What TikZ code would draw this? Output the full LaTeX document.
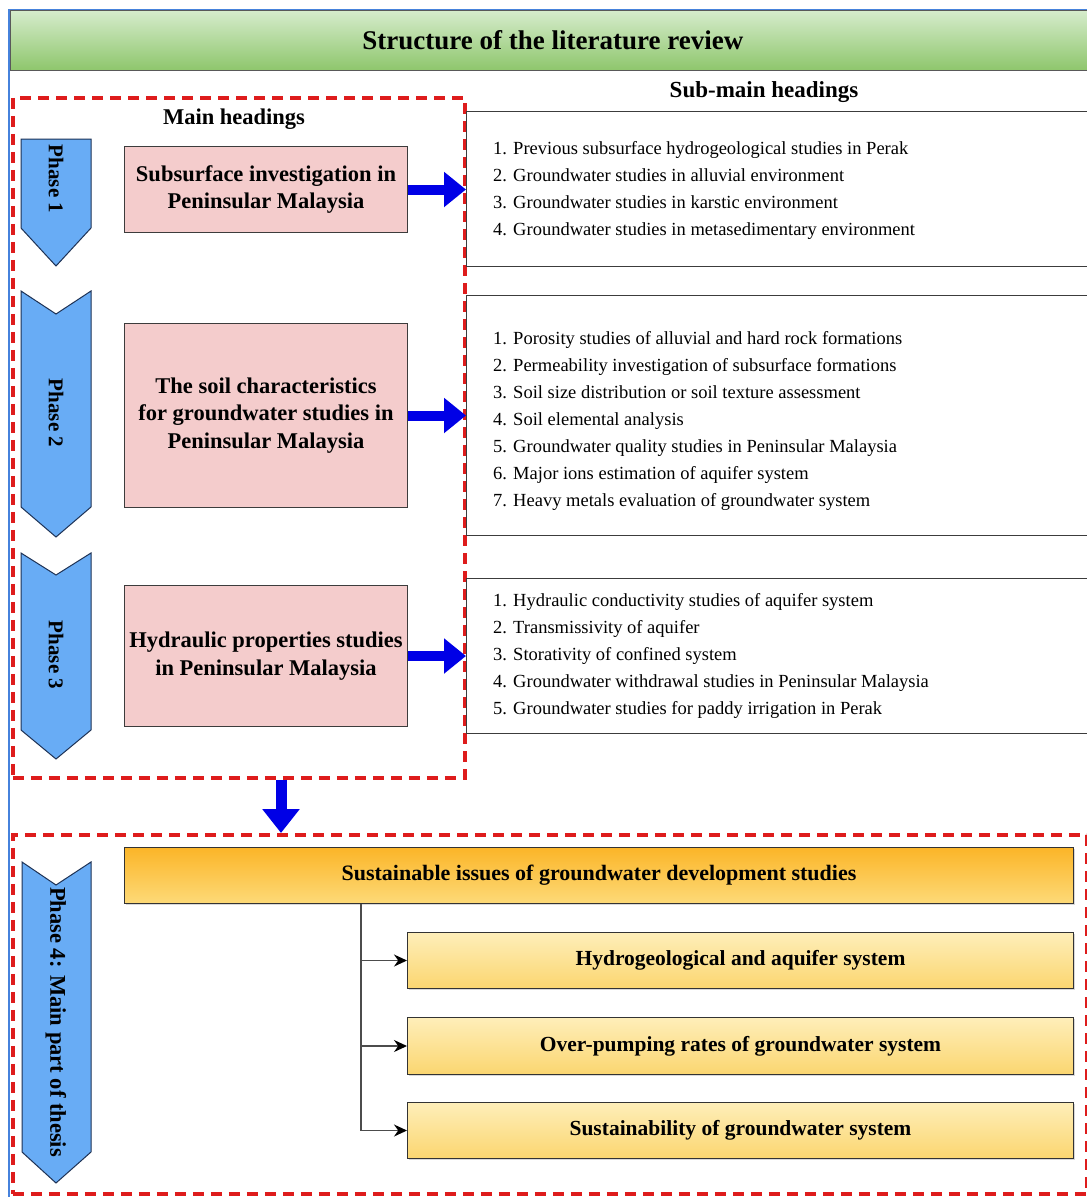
\documentclass[tikz,border=0pt]{standalone}
\usepackage{fontspec}
\setmainfont{Liberation Serif}
\usetikzlibrary{arrows.meta,shadows}
\definecolor{framecol}{RGB}{70,130,220}
\definecolor{hdtop}{RGB}{214,236,204}
\definecolor{hdbot}{RGB}{142,198,108}
\definecolor{pinkfill}{RGB}{244,204,204}
\definecolor{chevfill}{RGB}{104,172,245}
\definecolor{chevdraw}{RGB}{30,50,85}
\definecolor{redd}{RGB}{222,28,28}
\definecolor{arrblue}{RGB}{0,0,230}
\definecolor{ortop}{RGB}{251,181,40}
\definecolor{orbot}{RGB}{253,218,120}
\definecolor{yetop}{RGB}{254,238,185}
\definecolor{yebot}{RGB}{251,214,112}
\definecolor{boxline}{RGB}{60,60,60}
\begin{document}
\begin{tikzpicture}[x=1pt,y=-1pt,
  header/.style={draw=gray!70!black, line width=0.8pt, top color=hdtop, bottom color=hdbot,
    font=\fontsize{27}{32}\selectfont\bfseries, inner sep=0pt},
  redbox/.style={draw=redd, line width=3.5pt, dash pattern=on 11pt off 7pt, inner sep=0pt},
  chevron/.style={fill=chevfill, draw=chevdraw, line width=1pt},
  chevtxt/.style={font=\fontsize{21}{24}\selectfont\bfseries, rotate=-90, inner sep=0pt},
  pinkbox/.style={draw=boxline, line width=1pt, fill=pinkfill, align=center, inner sep=2pt,
    font=\fontsize{22.5}{27.5}\selectfont\bfseries},
  subbox/.style={draw=boxline, line width=1pt, fill=white, inner sep=0pt},
  listtxt/.style={align=left, inner sep=0pt, font=\fontsize{18.5}{27}\selectfont},
  headtxt/.style={font=\fontsize{22.5}{26}\selectfont\bfseries, inner sep=0pt},
  blockarr/.style={draw=arrblue, line width=10pt, -{Triangle[length=22pt,width=34pt]}},
  orangebox/.style={draw=black!80, line width=1pt, top color=ortop, bottom color=orbot,
    font=\fontsize{22}{26}\selectfont\bfseries, inner sep=0pt,
    drop shadow={shadow xshift=1.5pt, shadow yshift=-1.5pt, opacity=0.3}},
  yellowbox/.style={draw=black!80, line width=1pt, top color=yetop, bottom color=yebot,
    font=\fontsize{21.5}{26}\selectfont\bfseries, inner sep=0pt,
    drop shadow={shadow xshift=1.5pt, shadow yshift=-1.5pt, opacity=0.3}},
  trunkline/.style={draw=gray!60!black, line width=1.3pt},
  brancharr/.style={draw=gray!60!black, line width=1.3pt, -{Stealth[length=13pt,width=12pt,black]}}
]
\useasboundingbox[fill=white] (0,0) rectangle (1087,1197);

% outer frame
\draw[framecol, line width=1.5pt] (9,1197) -- (9,10) -- (1092,10);

% header
\node[header, anchor=north west, minimum width=1085, minimum height=60] (hdr) at (10,10)
  {Structure of the literature review};

% headings
\node[headtxt] (mainh) at (234,119) {Main headings};
\node[headtxt, font=\fontsize{23}{26}\selectfont\bfseries] (subh) at (764,92) {Sub-main headings};

% red dashed boxes
\node[redbox, anchor=north west, minimum width=452, minimum height=680] (upper) at (11,96) {};
\node[redbox, anchor=north west, minimum width=1074, minimum height=359] (lower) at (11,833) {};

% chevrons
\draw[chevron] (21,139) -- (91,139) -- (91,228) -- (56,266) -- (21,228) -- cycle;
\node[chevtxt] (ph1) at (56,179) {Phase 1};
\draw[chevron] (21,291) -- (56,314) -- (91,291) -- (91,507) -- (56,537) -- (21,507) -- cycle;
\node[chevtxt] (ph2) at (56,413) {Phase 2};
\draw[chevron] (21,553) -- (56,575) -- (91,553) -- (91,730) -- (56,759) -- (21,730) -- cycle;
\node[chevtxt] (ph3) at (56,655) {Phase 3};
\draw[chevron] (22,862) -- (56,885) -- (91,862) -- (91,1152) -- (56,1183) -- (22,1152) -- cycle;
\node[chevtxt, font=\fontsize{22.5}{26}\selectfont\bfseries] (ph4) at (56,1022) {Phase 4: Main part of thesis};

% pink main boxes
\node[pinkbox, anchor=north west, minimum width=283, minimum height=86] (p1) at (124,146)
  {Subsurface investigation in\\Peninsular Malaysia};
\node[pinkbox, anchor=north west, minimum width=283, minimum height=184] (p2) at (124,323)
  {The soil characteristics\\for groundwater studies in\\Peninsular Malaysia};
\node[pinkbox, anchor=north west, minimum width=283, minimum height=141] (p3) at (124,585)
  {Hydraulic properties studies\\in Peninsular Malaysia};

% sub boxes
\node[subbox, anchor=north west, minimum width=630, minimum height=155] (s1) at (466,111) {};
\node[subbox, anchor=north west, minimum width=630, minimum height=240] (s2) at (466,295) {};
\node[subbox, anchor=north west, minimum width=630, minimum height=155] (s3) at (466,578) {};

\node[listtxt, anchor=west] (l1) at ([xshift=27pt,yshift=-1pt]s1.west)
  {1. Previous subsurface hydrogeological studies in Perak\\
   2. Groundwater studies in alluvial environment\\
   3. Groundwater studies in karstic environment\\
   4. Groundwater studies in metasedimentary environment};
\node[listtxt, anchor=west] (l2) at ([xshift=27pt,yshift=-5pt]s2.west)
  {1. Porosity studies of alluvial and hard rock formations\\
   2. Permeability investigation of subsurface formations\\
   3. Soil size distribution or soil texture assessment\\
   4. Soil elemental analysis\\
   5. Groundwater quality studies in Peninsular Malaysia\\
   6. Major ions estimation of aquifer system\\
   7. Heavy metals evaluation of groundwater system};
\node[listtxt, anchor=west] (l3) at ([xshift=27pt]s3.west)
  {1. Hydraulic conductivity studies of aquifer system\\
   2. Transmissivity of aquifer\\
   3. Storativity of confined system\\
   4. Groundwater withdrawal studies in Peninsular Malaysia\\
   5. Groundwater studies for paddy irrigation in Perak};

% block arrows
\draw[blockarr] (p1.east) -- (s1.west |- p1.east);
\draw[blockarr] (p2.east) -- (s2.west |- p2.east);
\draw[blockarr] (p3.east) -- (s3.west |- p3.east);
\coordinate (dx) at (281,0);
\draw[blockarr, line width=11pt, -{Triangle[length=24pt,width=36pt]}] (upper.south -| dx) -- (lower.north -| dx);

% phase 4 boxes
\node[orangebox, anchor=north west, minimum width=949, minimum height=56] (o0) at (124,847)
  {Sustainable issues of groundwater development studies};
\node[yellowbox, anchor=north west, minimum width=666, minimum height=56] (oa) at (407,932)
  {Hydrogeological and aquifer system};
\node[yellowbox, anchor=north west, minimum width=666, minimum height=57] (ob) at (407,1017)
  {Over-pumping rates of groundwater system};
\node[yellowbox, anchor=north west, minimum width=666, minimum height=56] (oc) at (407,1102)
  {Sustainability of groundwater system};

\coordinate (tr) at (361,0);
\draw[trunkline] (o0.south -| tr) -- (oc.west -| tr);
\draw[brancharr] (oa.west -| tr) -- (oa.west);
\draw[brancharr] (ob.west -| tr) -- (ob.west);
\draw[brancharr] (oc.west -| tr) -- (oc.west);
\end{tikzpicture}
\end{document}
